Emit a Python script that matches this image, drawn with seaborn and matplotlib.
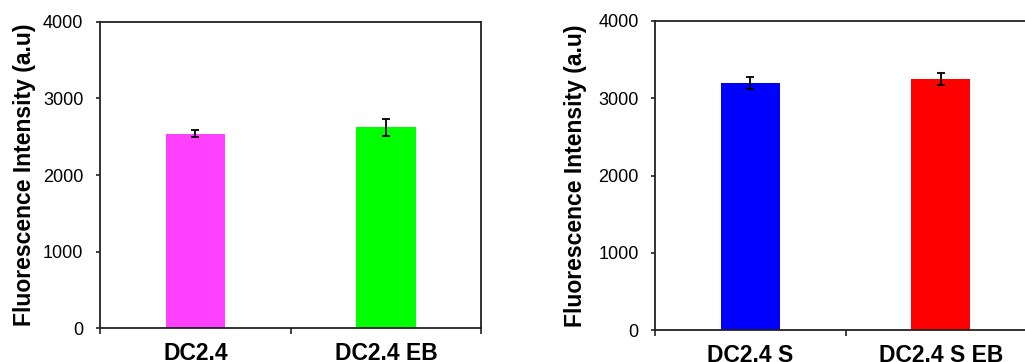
import matplotlib
matplotlib.use("Agg")
import matplotlib.pyplot as plt
import numpy as np
import pandas as pd
import seaborn as sns

# data
cats_left = ["DC2.4", "DC2.4 EB"]
vals_left = [2540, 2625]
err_left = [45, 110]
colors_left = ["#FF40FF", "#00FF00"]

cats_right = ["DC2.4 S", "DC2.4 S EB"]
vals_right = [3195, 3250]
err_right = [80, 82]
colors_right = ["#0000FF", "#FF0000"]

ylabel = "Fluorescence Intensity (a.u)"

sns.set_style("white")
plt.rcParams['font.family'] = ['Liberation Sans', 'DejaVu Sans']
plt.rcParams['text.color'] = 'black'
plt.rcParams['axes.labelcolor'] = 'black'
plt.rcParams['xtick.color'] = 'black'
plt.rcParams['ytick.color'] = 'black'

fig = plt.figure(figsize=(10.25, 3.62), dpi=100, facecolor='w')
ax1 = fig.add_axes([0.0976, 0.093, 0.372, 0.847])
ax2 = fig.add_axes([0.6393, 0.088, 0.3713, 0.854])


def panel(ax, cats, vals, errs, colors, lpad):
    df = pd.DataFrame({"cat": cats, "val": vals})
    sns.barplot(data=df, x="cat", y="val", hue="cat", palette=colors,
                width=0.31, legend=False, ax=ax, saturation=1,
                edgecolor="none")
    ax.errorbar(np.arange(len(cats)), vals, yerr=errs, fmt="none",
                ecolor="black", elinewidth=1.3, capsize=2.6, capthick=1.3)
    ax.set_xlim(-0.5, len(cats) - 0.5)
    ax.set_ylim(0, 4000)
    ax.set_yticks([0, 1000, 2000, 3000, 4000])
    ax.set_xticks(np.arange(-0.5, len(cats), 1.0), minor=True)
    ax.tick_params(axis="x", which="major", length=0, pad=10, labelsize=16.5)
    ax.tick_params(axis="x", which="minor", length=4, width=1.2, direction="out",
                   color="#222222", bottom=True)
    ax.tick_params(axis="y", length=3, width=1.2, direction="out", left=True,
                   pad=9, labelsize=13, color="#222222")
    for t in ax.get_xticklabels():
        t.set_fontweight("bold")
    for s in ax.spines.values():
        s.set_visible(True)
        s.set_color("#222222")
        s.set_linewidth(1.3)
    ax.set_xlabel("")
    ax.set_ylabel(ylabel, fontsize=16.5, fontweight="bold", labelpad=lpad)


panel(ax1, cats_left, vals_left, err_left, colors_left, 5)
panel(ax2, cats_right, vals_right, err_right, colors_right, 8)

fig.savefig("out.png", dpi=100, facecolor='w')
